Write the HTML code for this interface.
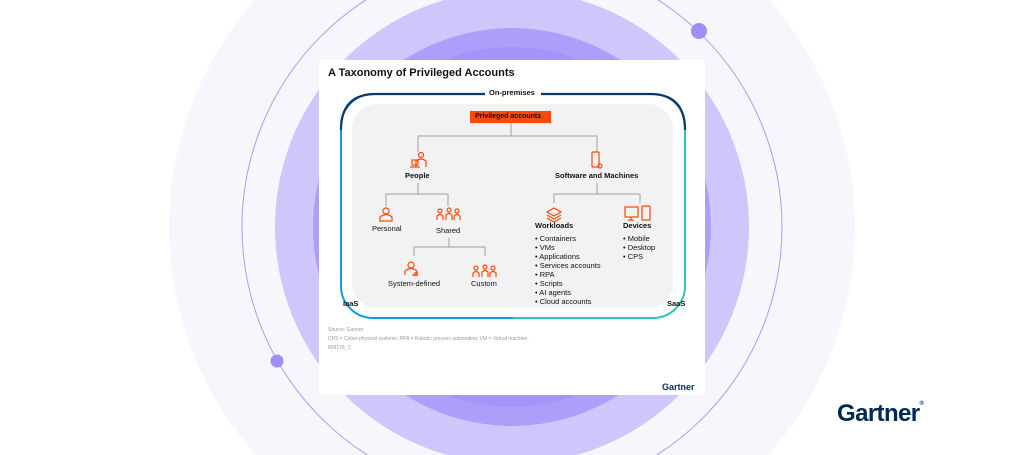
<!DOCTYPE html>
<html><head><meta charset="utf-8"><style>
html,body{margin:0;width:1024px;height:455px;overflow:hidden}
body{background:#fff;font-family:"Liberation Sans",Arial,sans-serif;position:relative}
.t{position:absolute;white-space:nowrap;color:#111;line-height:1.15}
</style></head><body>
<svg width="1024" height="455" style="position:absolute;left:0;top:0">
<circle cx="512" cy="227" r="343" fill="#f7f6fd"/>
<circle cx="512" cy="227" r="237" fill="#cfc6fb"/>
<circle cx="512" cy="227" r="199" fill="#ad9ff9"/>
<circle cx="512" cy="227" r="180" fill="#a294f8"/>
<circle cx="512" cy="227" r="270" fill="none" stroke="#a99cf5" stroke-width="1"/>
<circle cx="699" cy="31" r="8" fill="#9d8ff5"/>
<circle cx="277" cy="361" r="6.5" fill="#9d8ff5"/>
<rect x="319" y="60" width="386" height="335" fill="#fff"/>
<defs><linearGradient id="g" x1="0" x2="1"><stop offset="0.5" stop-color="#0a9fdc"/><stop offset="0.5" stop-color="#2cc6b5"/></linearGradient></defs>
<rect x="341" y="94" width="344" height="224" rx="32" fill="none" stroke="url(#g)" stroke-width="2"/>
<path d="M341 130 Q341 94 376 94 H650 Q685 94 685 130" fill="none" stroke="#0b3a6a" stroke-width="2.2"/>
<rect x="485" y="89" width="56" height="10" fill="#fff"/>
<rect x="352" y="104" width="321" height="204" rx="25" fill="#f2f2f2"/>
<rect x="470" y="111" width="81" height="12" fill="#fa4a0a"/>
<g fill="none" stroke="#a0a0a0" stroke-width="1">
<path d="M511 123V136M418 152V136H597V152"/>
<path d="M418 183V194M386 206V194H448V206"/>
<path d="M449 238V247M414 256V247H485V256"/>
<path d="M597 183V194M554 203V194H640V203"/>
</g>
<g fill="none" stroke="#fa4a0a" stroke-width="1.2">
<circle cx="421" cy="155" r="2.5"/><path d="M416 167V161Q421 157 426 161V167"/><rect x="412" y="160" width="6" height="5"/><path d="M410 167H420"/>
<rect x="592" y="152" width="7" height="15" rx="1"/><circle cx="600" cy="166" r="2"/>
<circle cx="386" cy="211" r="3"/><path d="M380 221V217Q386 212 392 217V221Z"/>
<g id="grp"><circle cx="440" cy="211" r="2"/><circle cx="449" cy="210" r="2"/><circle cx="457" cy="211" r="2"/><path d="M437 220V216Q440 213 443 216V220M446 220V215Q449 212 452 215V220M454 220V216Q457 213 460 216V220"/></g>
<use href="#grp" x="36" y="57"/>
<circle cx="411" cy="265" r="3"/><path d="M405 275V271Q411 266 417 271V275H412"/><circle cx="416" cy="274" r="1.5"/>
<path d="M554 208L561 212L554 216L547 212Z M547 215L554 219L561 215 M547 218L554 222L561 218"/>
<rect x="625" y="207" width="13" height="10"/><path d="M631 217V220M628 220H634"/><rect x="642" y="206" width="8" height="14" rx="1"/>
</g>
</svg>
<div class="t" style="left:328px;top:67px;font-size:11px;font-weight:bold">A Taxonomy of Privileged Accounts</div>
<div class="t" style="left:489px;top:89px;font-size:7.5px;font-weight:bold">On-premises</div>
<div class="t" style="left:475px;top:113px;font-size:7px;font-weight:bold">Privileged accounts</div>
<div class="t" style="left:405px;top:172px;font-size:7.5px;font-weight:bold">People</div>
<div class="t" style="left:555px;top:172px;font-size:7.5px;font-weight:bold">Software and Machines</div>
<div class="t" style="left:372px;top:225px;font-size:7.5px">Personal</div>
<div class="t" style="left:436px;top:227px;font-size:7.5px">Shared</div>
<div class="t" style="left:388px;top:280px;font-size:7.5px">System-defined</div>
<div class="t" style="left:471px;top:280px;font-size:7.5px">Custom</div>
<div class="t" style="left:535px;top:222px;font-size:7.5px;font-weight:bold">Workloads</div>
<div class="t" style="left:623px;top:222px;font-size:7.5px;font-weight:bold">Devices</div>
<div class="t" style="left:535px;top:234px;font-size:7.5px;line-height:9px">• Containers<br>• VMs<br>• Applications<br>• Services accounts<br>• RPA<br>• Scripts<br>• AI agents<br>• Cloud accounts</div>
<div class="t" style="left:623px;top:234px;font-size:7.5px;line-height:9px">• Mobile<br>• Desktop<br>• CPS</div>
<div class="t" style="left:343px;top:300px;font-size:7.5px;font-weight:bold">IaaS</div>
<div class="t" style="left:667px;top:300px;font-size:7.5px;font-weight:bold">SaaS</div>
<div class="t" style="left:328px;top:326px;font-size:5px;color:#999;line-height:9px">Source: Gartner<br>CPS = Cyber-physical systems; RPA = Robotic process automation; VM = Virtual machine.<br>809178_C</div>
<div class="t" style="left:662px;top:382px;font-size:9px;font-weight:bold;color:#0b2a5a">Gartner</div>
<div class="t" style="left:837px;top:401px;font-size:24px;line-height:26px;font-weight:bold;color:#002856;letter-spacing:-0.6px">Gartner<span style="font-size:6px;vertical-align:top;line-height:6px">®</span></div>
</body></html>
